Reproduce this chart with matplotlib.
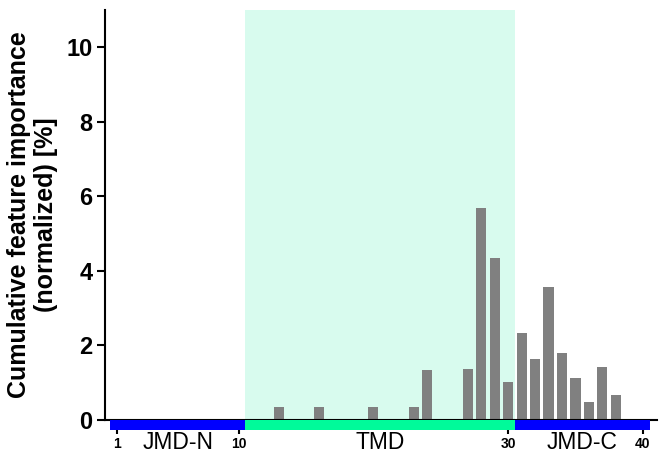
import matplotlib
matplotlib.use("Agg")
import matplotlib.pyplot as plt
import matplotlib.patches as mpatches

plt.rcParams["font.family"] = ["Liberation Sans", "DejaVu Sans"]

# residue positions and cumulative feature importance (%)
positions = [13, 16, 20, 23, 24, 27, 28, 29, 30, 31, 32, 33, 34, 35, 36, 37, 38]
importance = [0.35, 0.35, 0.35, 0.35, 1.34, 1.37, 5.68, 4.34, 1.02,
              2.33, 1.64, 3.57, 1.80, 1.13, 0.48, 1.42, 0.67]

# parts of the sequence: name, first residue, last residue, colour
parts = ["JMD-N", "TMD", "JMD-C"]
part_start = [1, 11, 31]
part_stop = [10, 30, 40]
part_colors = ["#0000ff", "#00fa9a", "#0000ff"]

x_ticks = [1, 10, 30, 40]
y_ticks = [0, 2, 4, 6, 8, 10]


def main():
    fig = plt.figure(figsize=(6.65, 4.65), dpi=100)
    ax = fig.add_axes([0.158, 0.097, 0.830, 0.882])

    # TMD background
    ax.axvspan(part_start[1] - 0.5, part_stop[1] + 0.5, color="#d8fbee",
               lw=0, zorder=0)

    ax.bar(positions, importance, width=0.75, color="#808080", zorder=2)

    ax.set_xlim(0.1, 41.05)
    ax.set_ylim(0, 11)

    # coloured sequence bar under the x axis
    for name, s, e, c in zip(parts, part_start, part_stop, part_colors):
        rect = mpatches.Rectangle((s - 0.5, -0.27), e - s + 1, 0.27,
                                  facecolor=c, edgecolor="none",
                                  clip_on=False, zorder=4)
        ax.add_patch(rect)
        ax.text((s + e) / 2, -0.6, name, ha="center", va="center",
                fontsize=16.5, clip_on=False)

    ax.set_xticks(x_ticks)
    ax.set_xticklabels([str(t) for t in x_ticks], fontsize=10,
                       fontweight="bold")
    ax.tick_params(axis="x", length=10, width=1.5, pad=2)

    ax.set_yticks(y_ticks)
    ax.set_yticklabels([str(t) for t in y_ticks], fontsize=17,
                       fontweight="bold")
    ax.tick_params(axis="y", length=6, width=1.5, pad=3)

    ax.set_ylabel("Cumulative feature importance\n(normalized) [%]",
                  fontsize=18, fontweight="bold", linespacing=1.15,
                  labelpad=6)

    for side in ["top", "right"]:
        ax.spines[side].set_visible(False)
    for side in ["left", "bottom"]:
        ax.spines[side].set_linewidth(1.5)

    fig.savefig("out.png", dpi=100)


if __name__ == "__main__":
    main()
